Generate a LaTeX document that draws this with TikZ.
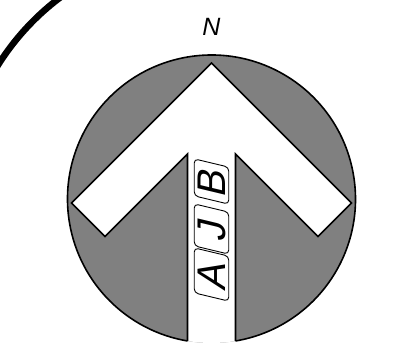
\documentclass[tikz,border=0pt]{standalone}
\usepackage{fontspec}
\setmainfont{Liberation Sans}
\begin{document}
\begin{tikzpicture}[x=1pt, y=1pt, line join=miter,
    letterbox/.style={draw, line width=0.9pt, rounded corners=4pt, rotate=90, xslant=0.24,
      font=\fontsize{40}{40}\selectfont, text height=28.5pt, text depth=0pt,
      inner xsep=0pt, inner ysep=3pt, minimum height=34pt}]
  %% Page frame
  \useasboundingbox (0,0) rectangle (416,364);
  \clip (0,0) rectangle (416,364);
  \coordinate (ctr) at (211.5,165);
  %% Outer thick arc
  \draw[line width=6.5pt] (ctr) ++(112:252) arc[start angle=112, end angle=165, radius=252];
  %% Grey disc
  \fill[black!50] (ctr) circle[radius=144];
  %% White arrow, cut at the disc
  \begin{scope}
    \clip (ctr) circle[radius=144];
    \filldraw[fill=white, line width=1.6pt]
      (211.5,301) -- (71.5,161) -- (105,127.5) -- (187.5,210) -- (187.5,-20)
      -- (235.5,-20) -- (235.5,210) -- (318,127.5) -- (351.5,161) -- cycle;
  \end{scope}
  %% Disc rim, open where the stem leaves
  \draw[line width=1.6pt] (ctr) ++(-80.41:144) arc[start angle=-80.41, end angle=260.41, radius=144];
  %% North mark
  \node[font=\fontsize{25}{25}\selectfont\itshape] (north) at (211.5,337) {N};
  %% Letters along the stem: letter/y/length
  \foreach \lbl/\yy/\len in {B/182.5/37, J/135/42, A/89.5/45}{
    \node[letterbox, minimum width=\len pt] (box\lbl) at (211.5,\yy) {\lbl};
  }
\end{tikzpicture}
\end{document}
